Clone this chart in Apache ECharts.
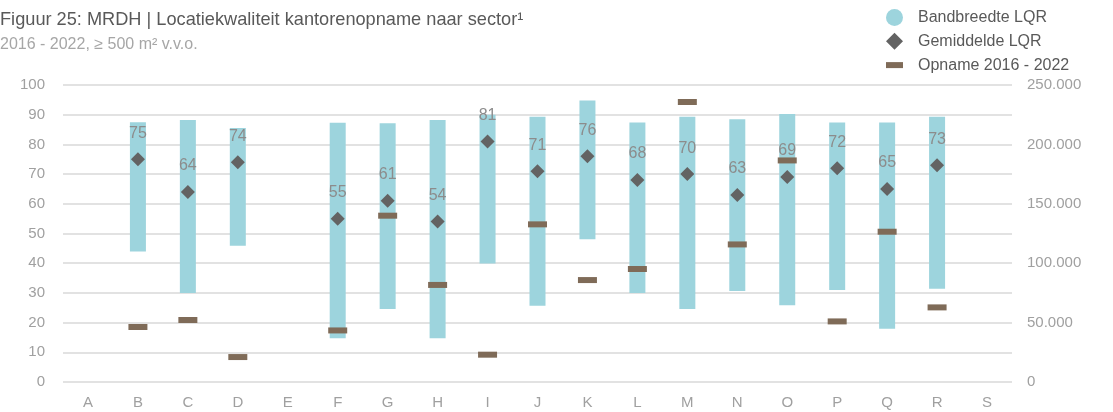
<!DOCTYPE html>
<html>
<head>
<meta charset="utf-8">
<script src="https://cdn.jsdelivr.net/npm/echarts@6/dist/echarts.min.js"></script>
<style>
html,body{margin:0;padding:0;background:#fff;}
#chart{width:1113px;height:412px;}
</style>
</head>
<body>
<div id="chart"></div>
<script>
const categories = ['A','B','C','D','E','F','G','H','I','J','K','L','M','N','O','P','Q','R','S'];
const bandBottom = [null,43.9,30.0,45.9,null,14.7,24.6,14.7,39.9,25.7,48.1,30.0,24.6,30.6,25.8,31.0,17.9,31.4,null];
const bandTop    = [null,87.5,88.2,85.5,null,87.3,87.1,88.2,90.0,89.3,94.8,87.4,89.3,88.5,90.2,87.4,87.4,89.3,null];
const avgLQR     = [null,75,64,74,null,55,61,54,81,71,76,68,70,63,69,72,65,73,null];
const opname     = [null,46300,52200,21000,null,43400,140000,81700,23000,132700,85800,95100,235700,115800,186500,51000,126500,62800,null];
const leftTicks = {min:0, max:100, interval:10};
const rightTicks = {min:0, max:250000, interval:50000};

const bandBase = bandBottom.map(v => v == null ? '-' : v);
const bandRange = bandTop.map((v,i) => v == null ? '-' : +(v - bandBottom[i]).toFixed(1));
const avgData = avgLQR.map(v => v == null ? '-' : v);
const opData = opname.map(v => v == null ? '-' : v);

const chart = echarts.init(document.getElementById('chart'), null, {renderer:'canvas'});
const font = 'Liberation Sans, Arial, sans-serif';
chart.setOption({
  animation:false,
  textStyle:{fontFamily:font},
  title:{
    text:'Figuur 25: MRDH | Locatiekwaliteit kantorenopname naar sector¹',
    subtext:'2016 - 2022, ≥ 500 m² v.v.o.',
    left:0, top:11, padding:0, itemGap:8,
    textStyle:{fontSize:18.2, fontWeight:'normal', color:'#595959', fontFamily:font},
    subtextStyle:{fontSize:16, color:'#a6a6a6', fontFamily:font}
  },
  legend:{
    orient:'vertical', left:886, top:9, padding:0, itemGap:6.8,
    itemWidth:17, itemHeight:17,
    textStyle:{fontSize:16, color:'#595959', fontFamily:font, padding:[0,0,0,10]},
    data:[
      {name:'Bandbreedte LQR', icon:'circle'},
      {name:'Gemiddelde LQR', icon:'diamond'},
      {name:'Opname 2016 - 2022', icon:'path://M0,0M0,5.5H17V11.5H0Z M17,17'}
    ]
  },
  grid:{left:63, right:101, top:85, bottom:30},
  xAxis:{
    type:'category', data:categories, boundaryGap:true,
    axisLine:{show:false}, axisTick:{show:false},
    axisLabel:{color:'#a0a0a0', fontSize:15, margin:13}
  },
  yAxis:[
    {type:'value', min:leftTicks.min, max:leftTicks.max, interval:leftTicks.interval,
     axisLine:{show:false}, axisTick:{show:false},
     axisLabel:{color:'#a0a0a0', fontSize:15, margin:18},
     splitLine:{lineStyle:{color:'#d9d9d9', width:1.5}}},
    {type:'value', min:rightTicks.min, max:rightTicks.max, interval:rightTicks.interval,
     position:'right',
     axisLine:{show:false}, axisTick:{show:false},
     axisLabel:{color:'#a0a0a0', fontSize:15, margin:15,
       formatter: v => v === 0 ? '0' : String(v).replace(/\B(?=(\d{3})+(?!\d))/g,'.')},
     splitLine:{show:false}}
  ],
  series:[
    {name:'base', type:'bar', stack:'band', data:bandBase, barWidth:16,
     itemStyle:{color:'rgba(0,0,0,0)'}, silent:true, emphasis:{disabled:true}},
    {name:'Bandbreedte LQR', type:'bar', stack:'band', data:bandRange, barWidth:16,
     itemStyle:{color:'#9dd4dd'}},
    {name:'Gemiddelde LQR', type:'scatter', data:avgData, symbol:'diamond', symbolSize:14,
     itemStyle:{color:'#636363', opacity:1}, z:5,
     label:{show:true, position:'top', distance:11, color:'#8c8c8c', fontSize:16, fontFamily:font}},
    {name:'Opname 2016 - 2022', type:'scatter', yAxisIndex:1, data:opData, symbol:'rect',
     symbolSize:[19,6], itemStyle:{color:'#7f6b58', opacity:1}, z:6}
  ]
});
</script>
</body>
</html>
